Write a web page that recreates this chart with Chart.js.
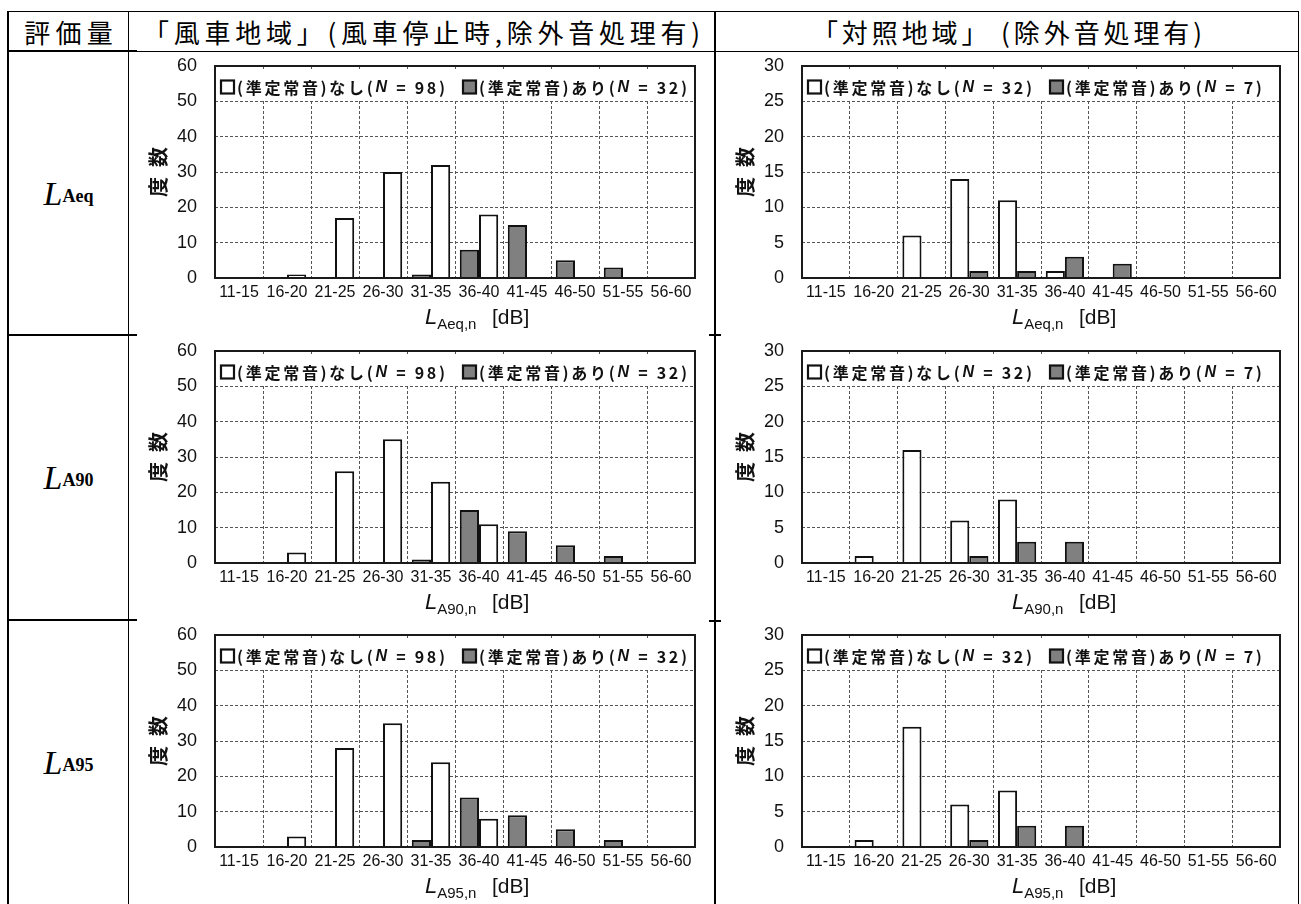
<!DOCTYPE html>
<html><head><meta charset="utf-8">
<script src="https://cdn.jsdelivr.net/npm/chart.js@4.4.1/dist/chart.umd.min.js"></script>
<style>
html,body{margin:0;padding:0;background:#fff;}
#page{position:relative;width:1301px;height:904px;overflow:hidden;background:#fff;}
.ln{position:absolute;background:#000;}
.hdr{position:absolute;top:12px;height:38px;display:flex;align-items:center;justify-content:center;font-family:'Noto Sans CJK JP';font-size:26px;color:#000;white-space:nowrap;}
.hdr span{display:inline-block;}
.rl{position:absolute;left:9px;width:119px;height:283px;display:flex;align-items:center;justify-content:center;font-family:'Liberation Serif';color:#000;white-space:nowrap;}
.rl i{font-size:34px;}
.rl b{font-size:18px;position:relative;top:3px;}
canvas{position:absolute;}
</style></head>
<body><div id="page"></div>
<script>
// ---------------- data ----------------
const categories = ['11-15','16-20','21-25','26-30','31-35','36-40','41-45','46-50','51-55','56-60'];
const colHeaders = ['評価量', '「風車地域」(風車停止時,除外音処理有)', '「対照地域」 (除外音処理有)'];
const rowMetrics = ['Aeq', 'A90', 'A95'];
const axisSubscripts = ['Aeq,n', 'A90,n', 'A95,n'];
const seriesNames = ['(準定常音)なし', '(準定常音)あり'];
const windN = [98, 32];
const ctrlN = [32, 7];
const windMax = 60, windStep = 10;
const ctrlMax = 30, ctrlStep = 5;

const windNoneLAeq = [0, 1, 17, 30, 32, 18, 0, 0, 0, 0];
const windWithLAeq = [0, 0, 0, 0, 1, 8, 15, 5, 3, 0];
const ctrlNoneLAeq = [0, 0, 6, 14, 11, 1, 0, 0, 0, 0];
const ctrlWithLAeq = [0, 0, 0, 1, 1, 3, 2, 0, 0, 0];

const windNoneLA90 = [0, 3, 26, 35, 23, 11, 0, 0, 0, 0];
const windWithLA90 = [0, 0, 0, 0, 1, 15, 9, 5, 2, 0];
const ctrlNoneLA90 = [0, 1, 16, 6, 9, 0, 0, 0, 0, 0];
const ctrlWithLA90 = [0, 0, 0, 1, 3, 3, 0, 0, 0, 0];

const windNoneLA95 = [0, 3, 28, 35, 24, 8, 0, 0, 0, 0];
const windWithLA95 = [0, 0, 0, 0, 2, 14, 9, 5, 2, 0];
const ctrlNoneLA95 = [0, 1, 17, 6, 8, 0, 0, 0, 0, 0];
const ctrlWithLA95 = [0, 0, 0, 1, 3, 3, 0, 0, 0, 0];

// ---------------- page frame ----------------
const page = document.getElementById('page');
function line(l, t, w, h) {
  const d = document.createElement('div'); d.className = 'ln';
  d.style.left = l + 'px'; d.style.top = t + 'px'; d.style.width = w + 'px'; d.style.height = h + 'px';
  page.appendChild(d);
}
line(8, 11, 1291, 1);       // top
line(7, 11, 2, 893);        // left
line(128, 11, 1, 893);      // first column divider
line(714, 11, 2, 893);      // middle divider
line(1298, 11, 1, 893);     // right
line(7, 50, 130, 2);        // header bottom (thick, first col)
line(128, 51, 1171, 1);     // header bottom
line(7, 334, 130, 2);       // row separators
line(7, 619, 130, 2);
line(709, 334, 12, 2);
line(709, 620, 12, 2);

// headers
const hdrBoxes = [[9, 119, 94], [129, 585, 562], [716, 582, 394]];
colHeaders.forEach((txt, i) => {
  const d = document.createElement('div'); d.className = 'hdr';
  d.style.left = hdrBoxes[i][0] + 'px'; d.style.width = hdrBoxes[i][1] + 'px';
  const s = document.createElement('span'); s.textContent = txt;
  d.appendChild(s); page.appendChild(d);
  const nat = s.getBoundingClientRect().width;
  const n = [...txt].length;
  const sp = (hdrBoxes[i][2] - nat) / n;
  s.style.letterSpacing = sp + 'px';
  s.style.paddingLeft = sp + 'px';
});

// row labels
const rowTops = [52, 336, 621];
rowMetrics.forEach((m, i) => {
  const d = document.createElement('div'); d.className = 'rl';
  d.style.top = rowTops[i] + 'px';
  d.innerHTML = '<i>L</i><b>' + m + '</b>';
  page.appendChild(d);
});

// ---------------- charts ----------------
Chart.defaults.font.family = "'Liberation Sans', Arial, sans-serif";
Chart.defaults.color = '#111';

const jpFont = "bold 16px 'Noto Sans CJK JP'";
const nFont = "italic bold 16px 'Liberation Sans'";

function runsFor(name, n) {
  return [{t: name + '(', f: jpFont}, {t: 'N', f: nFont}, {t: ' = ' + n + ')', f: jpFont}];
}
function measureRuns(ctx, runs) {
  let w = 0, c = 0;
  runs.forEach(r => { ctx.font = r.f; for (const ch of r.t) { w += ctx.measureText(ch).width; c++; } });
  return {w, c};
}
function drawRuns(ctx, runs, x, y, sp) {
  runs.forEach(r => { ctx.font = r.f; for (const ch of r.t) { ctx.fillText(ch, x, y); x += ctx.measureText(ch).width + sp; } });
  return x;
}
// legend letter spacing fitted once to the reference width of the first item
const mctx = document.createElement('canvas').getContext('2d');
const m0 = measureRuns(mctx, runsFor(seriesNames[0], windN[0]));
const legendSpacing = Math.max(0, (208 - m0.w) / (m0.c - 1));

function makePlugin(cfg) {
  return {
    id: 'deco',
    beforeDatasetsDraw(chart) {
      const {ctx, chartArea: a, scales} = chart;
      const yl = scales.y.getPixelForValue(cfg.max * 5 / 6);
      ctx.save();
      ctx.fillStyle = '#fff';
      ctx.fillRect(a.left + 1, a.top + 3, a.right - a.left - 2, yl - a.top - 4);
      // legend
      const cy = a.top + 21;
      const items = [[0, '#ffffff', a.left + 6], [1, '#808080', a.left + 248]];
      items.forEach(([k, col, bx]) => {
        ctx.fillStyle = col; ctx.strokeStyle = '#111'; ctx.lineWidth = 2.2;
        ctx.fillRect(bx, cy - 6.5, 13, 13);
        ctx.strokeRect(bx, cy - 6.5, 13, 13);
        ctx.fillStyle = '#111'; ctx.textBaseline = 'middle'; ctx.textAlign = 'left';
        drawRuns(ctx, runsFor(seriesNames[k], cfg.N[k]), bx + 16, cy + 1, legendSpacing);
      });
      ctx.restore();
    },
    afterDatasetsDraw(chart) {
      const {ctx, chartArea: a} = chart;
      ctx.save();
      ctx.strokeStyle = '#1a1a1a'; ctx.lineWidth = 2;
      ctx.strokeRect(a.left, a.top, a.right - a.left, a.bottom - a.top);
      ctx.restore();
    },
    afterDraw(chart) {
      const {ctx, chartArea: a} = chart;
      ctx.save();
      ctx.fillStyle = '#111';
      // y title (rotated)
      ctx.translate(a.left - 57, (a.top + a.bottom) / 2);
      ctx.rotate(-Math.PI / 2);
      ctx.font = "bold 20px 'Noto Sans CJK JP'";
      ctx.textAlign = 'center'; ctx.textBaseline = 'middle';
      ctx.fillText('度', -15, 0);
      ctx.fillText('数', 15, 0);
      ctx.restore();
      // x title
      ctx.save();
      ctx.fillStyle = '#111'; ctx.textAlign = 'left'; ctx.textBaseline = 'alphabetic';
      const by = a.bottom + 46;
      let x = a.left + 210;
      ctx.font = "italic 22px 'Liberation Sans'";
      ctx.fillText('L', x, by);
      x += ctx.measureText('L').width;
      ctx.font = "15px 'Liberation Sans'";
      ctx.fillText(cfg.sub, x, by + 5);
      ctx.font = "21px 'Liberation Sans'";
      ctx.fillText('[dB]', a.left + 277, by);
      ctx.restore();
    }
  };
}

const charts = [
  {row: 0, col: 0, none: windNoneLAeq, withq: windWithLAeq},
  {row: 0, col: 1, none: ctrlNoneLAeq, withq: ctrlWithLAeq},
  {row: 1, col: 0, none: windNoneLA90, withq: windWithLA90},
  {row: 1, col: 1, none: ctrlNoneLA90, withq: ctrlWithLA90},
  {row: 2, col: 0, none: windNoneLA95, withq: windWithLA95},
  {row: 2, col: 1, none: ctrlNoneLA95, withq: ctrlWithLA95}
];
const canvasTops = [53, 338, 622];
const colGeom = [
  {left: 137, width: 576, yW: 78, rPad: 18},
  {left: 717, width: 580, yW: 85, rPad: 17}
];

charts.forEach(c => {
  const g = colGeom[c.col];
  const isWind = c.col === 0;
  const max = isWind ? windMax : ctrlMax;
  const step = isWind ? windStep : ctrlStep;
  const cv = document.createElement('canvas');
  cv.width = g.width; cv.height = 280;
  cv.style.left = g.left + 'px'; cv.style.top = canvasTops[c.row] + 'px';
  page.appendChild(cv);

  const dsNone = {label: seriesNames[0], data: c.none, backgroundColor: '#ffffff', borderColor: '#111', borderWidth: 2};
  const dsWith = {label: seriesNames[1], data: c.withq, backgroundColor: '#808080', borderColor: '#111', borderWidth: 2};
  const datasets = isWind ? [dsWith, dsNone] : [dsNone, dsWith];

  const gridOpts = {color: '#555', lineWidth: 1, drawTicks: false};
  new Chart(cv, {
    type: 'bar',
    data: {labels: categories, datasets},
    options: {
      responsive: false, animation: false, devicePixelRatio: 1,
      layout: {padding: {left: 0, right: g.rPad, top: 13, bottom: 0}},
      plugins: {legend: {display: false}, tooltip: {enabled: false}},
      datasets: {bar: {categoryPercentage: 0.8, barPercentage: 1.0}},
      scales: {
        x: {
          grid: Object.assign({offset: true}, gridOpts),
          border: {display: false, dash: [3, 2]},
          ticks: {font: {size: 16}, color: '#111', padding: 5, maxRotation: 0, autoSkip: false},
          afterFit(s) { s.height = 55; s.paddingLeft = 0; s.paddingRight = 0; }
        },
        y: {
          min: 0, max: max,
          grid: gridOpts,
          border: {display: false, dash: [3, 2]},
          ticks: {stepSize: step, font: {size: 18}, color: '#111', padding: 18},
          afterFit(s) { s.width = g.yW; s.paddingTop = 0; s.paddingBottom = 0; }
        }
      }
    },
    plugins: [makePlugin({max, N: isWind ? windN : ctrlN, sub: axisSubscripts[c.row]})]
  });
});
</script>
</body></html>
